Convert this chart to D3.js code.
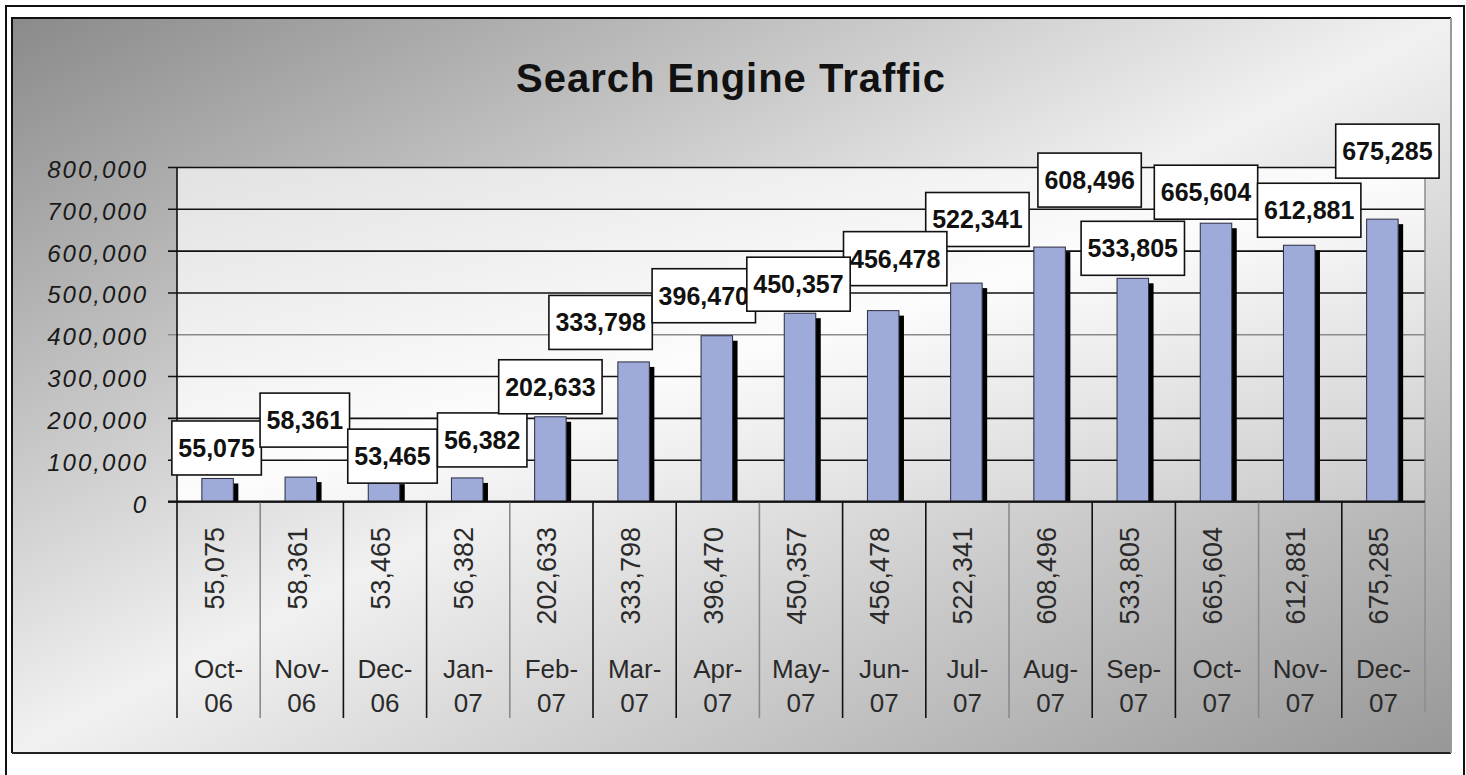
<!DOCTYPE html>
<html>
<head>
<meta charset="utf-8">
<script src="https://cdn.jsdelivr.net/npm/d3@7"></script>
<style>
  body { margin: 0; background: #fff; }
  svg { display: block; font-family: "Liberation Sans", Arial, sans-serif; }
</style>
</head>
<body>
<svg width="1466" height="775"></svg>
<script>
// data
let months = ["Oct-06", "Nov-06", "Dec-06", "Jan-07", "Feb-07", "Mar-07", "Apr-07", "May-07",
              "Jun-07", "Jul-07", "Aug-07", "Sep-07", "Oct-07", "Nov-07", "Dec-07"];
let visits = [55075, 58361, 53465, 56382, 202633, 333798, 396470, 450357,
              456478, 522341, 608496, 533805, 665604, 612881, 675285];
let yTicks = [0, 100000, 200000, 300000, 400000, 500000, 600000, 700000, 800000];

// hand placed label boxes (px from bar top / band centre), like the original
let labelDx = [-2, 3, 7.5, 14, -1, -34, -14, -2.5, 11, 10, 39, -1, -11, 9, 4];
let labelDy = [-30.5, -57, -23, -38, -30, -39.5, -40, -29, -52, -63.6, -67, -30, -31, -35, -68];

let svg = d3.select("svg");

let plotL = 177, plotR = 1425, plotT = 167, plotB = 501.5, tableB = 718;

let defs = svg.append("defs");

function diagGradient(id, stops) {
  let g = defs.append("linearGradient")
      .attr("id", id)
      .attr("x1", 0).attr("y1", 0).attr("x2", 1).attr("y2", 1);
  stops.forEach(function(s) {
    g.append("stop").attr("offset", s[0]).attr("stop-color", s[1]);
  });
}
diagGradient("bg", [[0, "#8a8a8a"], [0.5, "#f1f1f1"], [1, "#979797"]]);
diagGradient("plotbg", [[0, "#e2e2e2"], [0.5, "#fcfcfc"], [1, "#c9c9c9"]]);

// outer frame
svg.append("rect")
    .attr("x", 6).attr("y", 6)
    .attr("width", 1458).attr("height", 775)
    .attr("fill", "#fff")
    .attr("stroke", "#111")
    .attr("stroke-width", 2);

// chart area
svg.append("rect")
    .attr("x", 12).attr("y", 18)
    .attr("width", 1439).attr("height", 735)
    .attr("fill", "url(#bg)");

svg.append("path")
    .attr("d", "M12,753 L12,18 L1451,18")
    .attr("fill", "none")
    .attr("stroke", "#111")
    .attr("stroke-width", 2);
svg.append("path")
    .attr("d", "M12,753 L1451,753")
    .attr("stroke", "#222")
    .attr("stroke-width", 2);
svg.append("path")
    .attr("d", "M1451,18 L1451,753")
    .attr("stroke", "#9a9a9a")
    .attr("stroke-width", 2);

// title
svg.append("text")
    .attr("x", 731)
    .attr("y", 92)
    .attr("text-anchor", "middle")
    .attr("font-size", 40)
    .attr("font-weight", "bold")
    .attr("letter-spacing", 1)
    .attr("fill", "#111")
    .text("Search Engine Traffic");

let x = d3.scaleBand()
    .domain(months)
    .range([plotL, plotR])
    .padding(0);

let y = d3.scaleLinear()
    .domain([0, 800000])
    .range([plotB, plotT]);

// plot area
svg.append("rect")
    .attr("x", plotL).attr("y", plotT)
    .attr("width", plotR - plotL).attr("height", plotB - plotT)
    .attr("fill", "url(#plotbg)");

// y axis with gridlines
let yAxis = svg.append("g")
    .attr("transform", "translate(" + plotL + ",0)")
    .call(d3.axisLeft(y)
        .tickValues(yTicks)
        .tickFormat(d3.format(","))
        .tickSize(-(plotR - plotL))
        .tickPadding(0));

yAxis.select(".domain").remove();

yAxis.selectAll(".tick line")
    .attr("x1", -9)
    .attr("stroke", function(d) { return d == 400000 ? "#8a8a8a" : "#111"; })
    .attr("stroke-width", 1.6);

yAxis.selectAll(".tick text")
    .attr("x", -29)
    .attr("dy", null)
    .attr("y", 10.5)
    .attr("font-family", "\"Liberation Sans\", Arial, sans-serif")
    .attr("font-size", 24)
    .attr("font-style", "italic")
    .attr("letter-spacing", 2)
    .attr("fill", "#1a1a1a");

// right edge of plot area
svg.append("line")
    .attr("x1", plotR).attr("x2", plotR)
    .attr("y1", plotT).attr("y2", 712)
    .attr("stroke", "#8c8c8c")
    .attr("stroke-width", 1.5);

// data table lines
let bounds = months.map(function(m) { return x(m); });

svg.append("g")
    .selectAll("line")
    .data(bounds)
    .enter().append("line")
    .attr("x1", function(d) { return d; })
    .attr("x2", function(d) { return d; })
    .attr("y1", function(d, i) { return i == 0 ? plotT : plotB; })
    .attr("y2", tableB)
    .attr("stroke", function(d, i) { return i % 3 == 1 ? "#8a8a8a" : "#111"; })
    .attr("stroke-width", 1.6);

// bars
let bw = 31.5;

let bars = svg.append("g")
    .selectAll("g")
    .data(visits)
    .enter().append("g");

bars.append("rect")
    .attr("x", function(d, i) { return x(months[i]) + x.bandwidth() / 2 + bw / 2 - 1; })
    .attr("y", function(d) { return y(d) + 5; })
    .attr("width", 5)
    .attr("height", function(d) { return plotB - y(d) - 5; })
    .attr("fill", "#000");

bars.append("rect")
    .attr("x", function(d, i) { return x(months[i]) + x.bandwidth() / 2 - bw / 2 - 1; })
    .attr("y", function(d) { return y(d); })
    .attr("width", bw)
    .attr("height", function(d) { return plotB - y(d); })
    .attr("fill", "#9eaad8")
    .attr("stroke", "#2a2a40")
    .attr("stroke-width", 1);

// zero line on top of bars
svg.append("line")
    .attr("x1", plotL - 9).attr("x2", plotR)
    .attr("y1", plotB).attr("y2", plotB)
    .attr("stroke", "#111")
    .attr("stroke-width", 1.8);

// table values and month names
let fmt = d3.format(",");

let cols = svg.append("g")
    .selectAll("g")
    .data(months)
    .enter().append("g")
    .attr("transform", function(d) {
      return "translate(" + (x(d) + x.bandwidth() / 2) + ",0)";
    });

cols.append("text")
    .attr("transform", "translate(5,527) rotate(-90)")
    .attr("text-anchor", "end")
    .attr("font-size", 27)
    .attr("fill", "#2a2a2a")
    .text(function(d, i) { return fmt(visits[i]); });

cols.append("text")
    .attr("y", 678)
    .attr("text-anchor", "middle")
    .attr("font-size", 26)
    .attr("fill", "#2a2a2a")
    .text(function(d) { return d.split("-")[0] + "-"; });

cols.append("text")
    .attr("y", 712)
    .attr("text-anchor", "middle")
    .attr("font-size", 26)
    .attr("fill", "#2a2a2a")
    .text(function(d) { return d.split("-")[1]; });

// value label boxes
let boxH = 54;

let labels = svg.append("g")
    .selectAll("g")
    .data(visits)
    .enter().append("g")
    .attr("transform", function(d, i) {
      let cx = x(months[i]) + x.bandwidth() / 2 + labelDx[i];
      let cy = y(d) + labelDy[i];
      return "translate(" + cx + "," + cy + ")";
    });

labels.append("rect")
    .attr("y", -boxH / 2)
    .attr("height", boxH)
    .attr("fill", "#fff")
    .attr("stroke", "#111")
    .attr("stroke-width", 1.6);

labels.append("text")
    .attr("y", 9)
    .attr("text-anchor", "middle")
    .attr("font-size", 25)
    .attr("font-weight", "bold")
    .attr("fill", "#111")
    .text(function(d) { return fmt(d); });

labels.each(function() {
  let g = d3.select(this);
  let w = g.select("text").node().getComputedTextLength() + 13;
  g.select("rect").attr("x", -w / 2).attr("width", w);
});

// overlap order as in the original
labels.filter(function(d, i) { return i == 8; }).raise();
labels.filter(function(d, i) { return i == 7; }).raise();
</script>
</body>
</html>
